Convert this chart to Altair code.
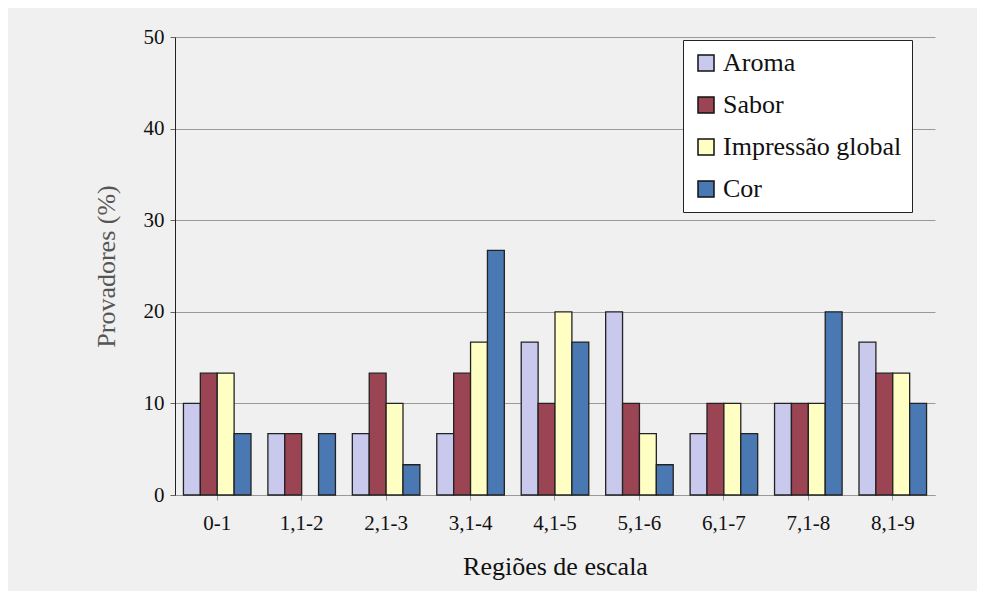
import altair as alt
import pandas as pd

categories = ["0-1", "1,1-2", "2,1-3", "3,1-4", "4,1-5", "5,1-6", "6,1-7", "7,1-8", "8,1-9"]
series = ["Aroma", "Sabor", "Impressão global", "Cor"]
aroma = [10.0, 6.7, 6.7, 6.7, 16.7, 20.0, 6.7, 10.0, 16.7]
sabor = [13.3, 6.7, 13.3, 13.3, 10.0, 10.0, 10.0, 10.0, 13.3]
impressao = [13.3, 0.0, 10.0, 16.7, 20.0, 6.7, 10.0, 10.0, 13.3]
cor = [6.7, 6.7, 3.3, 26.7, 16.7, 3.3, 6.7, 20.0, 10.0]
colors = ["#c9c9ee", "#9b4453", "#ffffc4", "#4a78b2"]

rows = []
for s, vals in zip(series, [aroma, sabor, impressao, cor]):
    for c, v in zip(categories, vals):
        rows.append({"Região": c, "Série": s, "Valor": v})
df = pd.DataFrame(rows)

font = "Liberation Serif"

chart = alt.Chart(df).transform_filter("datum.Valor > 0").mark_bar(
    stroke="#222222", strokeWidth=1.3
).encode(
    x=alt.X("Região:N", sort=categories,
            scale=alt.Scale(domain=categories, paddingInner=0.2, paddingOuter=0.1),
            axis=alt.Axis(title="Regiões de escala", labelAngle=0, labelFontSize=21,
                          titleFontSize=26, titleFontWeight="normal", titlePadding=20,
                          labelPadding=12, domainColor="#999999", tickColor="#999999",
                          labelColor="#111111", titleColor="#111111")),
    xOffset=alt.XOffset("Série:N", sort=series, scale=alt.Scale(domain=series)),
    y=alt.Y("Valor:Q", scale=alt.Scale(domain=[0, 50]),
            axis=alt.Axis(title="Provadores (%)", values=[0, 10, 20, 30, 40, 50],
                          labelFontSize=21, titleFontSize=26, titleFontWeight="normal",
                          titleColor="#555555", titlePadding=24, labelPadding=6,
                          domainColor="#222222", tickColor="#666666", labelColor="#111111",
                          gridColor="#9a9a9a")),
    color=alt.Color("Série:N", sort=series,
                    scale=alt.Scale(domain=series, range=colors),
                    legend=alt.Legend(title=None, orient="none", legendX=508, legendY=3,
                                      fillColor="white", strokeColor="#222222", padding=10,
                                      symbolType="square", symbolSize=256,
                                      symbolStrokeColor="#111111", symbolStrokeWidth=1.5,
                                      labelFont=font, labelFontSize=26, labelColor="#111111",
                                      labelLimit=400, rowPadding=16, labelOffset=4)),
).properties(
    width=760, height=458,
    autosize=alt.AutoSizeParams(type="none"),
    padding={"left": 167, "top": 29, "right": 42, "bottom": 96},
    background="#f0f0f0",
).configure(font=font).configure_axis(labelFont=font, titleFont=font).configure_view(stroke=None)

chart.save("out.html", embed_options={"renderer": "svg", "actions": False})
